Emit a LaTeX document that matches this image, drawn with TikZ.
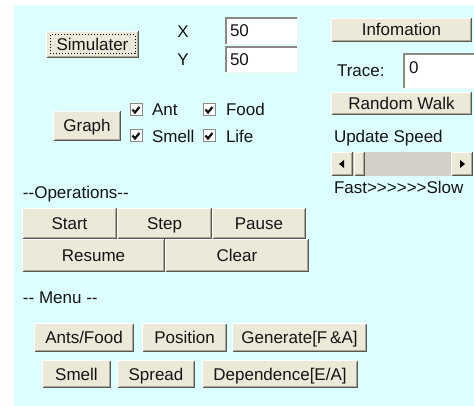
\documentclass[tikz,border=0pt]{standalone}
\usepackage{fontspec}
\newfontfamily\uiface{Liberation Sans}
\definecolor{panel}{HTML}{DCFFFF}
\definecolor{btnfill}{HTML}{ECE9D8}
\definecolor{btndark}{HTML}{5A5850}
\definecolor{btnmid}{HTML}{ACA899}
\definecolor{fielddark}{HTML}{8C8A80}
\definecolor{fieldlight}{HTML}{F4F3EE}
\definecolor{track}{HTML}{D4D0C8}
\definecolor{ink}{HTML}{141414}
\newcommand\uifont{\uiface\fontsize{17}{20}\selectfont}
\newcommand\bevelup[1]{%
  \draw[white,line width=1pt] ([xshift=.5pt,yshift=.5pt]#1.south west) |- ([xshift=-.5pt,yshift=-.5pt]#1.north east);
  \draw[btndark,line width=1pt] ([xshift=.5pt,yshift=.5pt]#1.south west) -| ([xshift=-.5pt,yshift=-.5pt]#1.north east);
  \draw[btnmid,line width=1pt] ([xshift=1.5pt,yshift=1.5pt]#1.south west) -| ([xshift=-1.5pt,yshift=-1.5pt]#1.north east);
}
\newcommand\beveldown[1]{%
  \draw[fieldlight,line width=1pt] ([xshift=.5pt,yshift=.5pt]#1.south west) -| ([xshift=-.5pt,yshift=-.5pt]#1.north east);
  \draw[fielddark,line width=2pt] ([xshift=1pt,yshift=1pt]#1.south west) |- ([xshift=-1pt,yshift=-1pt]#1.north east);
}
\begin{document}
\begin{tikzpicture}[x=1pt,y=-1pt,
  every node/.style={font=\uifont,text=ink,inner sep=0pt,outer sep=0pt,text height=12pt,text depth=0pt},
  btn/.style={fill=btnfill,anchor=north west},
  field/.style={fill=white,anchor=north west},
  lbl/.style={anchor=west},
  cbox/.style={fill=white,draw=fielddark,line width=1pt,minimum size=12pt,text height=0pt},
  tick/.style={line width=2.2pt,ink,line join=miter}]
\useasboundingbox (0,0) rectangle (474,406);
\fill[panel] (14,5) rectangle (474,406);

% top-left controls
\node[btn,minimum width=93pt,minimum height=27pt] (sim) at (46,31) {Simulater};
\draw[dotted,line width=1pt] ([shift={(4pt,4pt)}]sim.south west) rectangle ([shift={(-4pt,-4pt)}]sim.north east);
\node (xl) at (183,32) {X};
\node (yl) at (183,60) {Y};
\node[field,minimum width=73pt,minimum height=28pt] (fx) at (225,17) {};
\node[field,minimum width=73pt,minimum height=27pt] (fy) at (225,46) {};
\node[lbl] (fxt) at ([xshift=5pt]fx.west) {50};
\node[lbl] (fyt) at ([xshift=5pt]fy.west) {50};

\node[btn,minimum width=68pt,minimum height=30pt] (graph) at (53,111) {Graph};
\node[cbox] (cant) at (136,110) {};
\node[cbox] (cfood) at (209,110) {};
\node[cbox] (csmell) at (136,136) {};
\node[cbox] (clife) at (209,136) {};
\foreach \c in {cant,cfood,csmell,clife}{
  \draw[tick] ([shift={(-3.5pt,0.5pt)}]\c.center) -- ([shift={(-1pt,-2.5pt)}]\c.center) -- ([shift={(3.5pt,3pt)}]\c.center);
}
\node[lbl] (tant) at (152,110) {Ant};
\node[lbl] (tfood) at (226,110) {Food};
\node[lbl] (tsmell) at (152,137) {Smell};
\node[lbl] (tlife) at (226,137) {Life};

% right column
\node[btn,minimum width=141pt,minimum height=24pt] (info) at (331,18) {Infomation};
\node[lbl] (trace) at (337,71) {Trace:};
\begin{scope}
\clip (0,0) rectangle (474,406);
\node[field,minimum width=80pt,minimum height=35pt] (ftr) at (403,54) {};
\draw[fieldlight,line width=1pt] ([yshift=.5pt]ftr.south west) -- ([yshift=.5pt]ftr.south east);
\draw[fielddark,line width=2pt] ([xshift=1pt,yshift=1pt]ftr.south west) |- (ftr.north east);
\end{scope}
\node[anchor=north west] (ftrt) at (409,62) {0};
\node[btn,minimum width=141pt,minimum height=23pt] (rw) at (331,92) {Random Walk};
\node[lbl] (upd) at (334,137) {Update Speed};

% scrollbar
\node[fill=track,anchor=north west,minimum width=142pt,minimum height=24pt] (sb) at (331,152) {};
\node[btn,minimum width=22pt,minimum height=24pt] (sbl) at (331,152) {};
\node[btn,minimum width=11pt,minimum height=24pt] (sbt) at (354,152) {};
\node[btn,minimum width=22pt,minimum height=24pt] (sbr) at (451,152) {};
\fill[black] ([xshift=-3pt]sbl.center) -- ([shift={(2pt,4pt)}]sbl.center) -- ([shift={(2pt,-4pt)}]sbl.center) -- cycle;
\fill[black] ([xshift=3pt]sbr.center) -- ([shift={(-2pt,4pt)}]sbr.center) -- ([shift={(-2pt,-4pt)}]sbr.center) -- cycle;
\node[lbl] (fs) at (334,188) {Fast>\kern0pt>\kern0pt>\kern0pt>\kern0pt>\kern0pt>Slow};

% operations
\node[lbl] (ops) at (23,193) {-\kern0pt-Operations-\kern0pt-};
\node[btn,minimum width=95pt,minimum height=31pt] (start) at (22,208) {Start};
\node[btn,minimum width=95pt,minimum height=31pt] (step) at (117,208) {Step};
\node[btn,minimum width=94pt,minimum height=31pt] (pause) at (212,208) {Pause};
\node[btn,minimum width=143pt,minimum height=33pt] (resume) at (22,239) {Resume};
\node[btn,minimum width=144pt,minimum height=33pt] (clear) at (165,239) {Clear};

% menu
\node[lbl] (menu) at (23,297) {-\kern0pt- Menu -\kern0pt-};
\node[btn,minimum width=100pt,minimum height=29pt] (antsfood) at (34,323) {Ants/Food};
\node[btn,minimum width=85pt,minimum height=29pt] (position) at (142,323) {Position};
\node[btn,minimum width=135pt,minimum height=29pt] (generate) at (232,323) {Generate[F\,\&A]};
\node[btn,minimum width=69pt,minimum height=28pt] (smell) at (42,360) {Smell};
\node[btn,minimum width=78pt,minimum height=28pt] (spread) at (117,360) {Spread};
\node[btn,minimum width=156pt,minimum height=28pt] (depend) at (202,360) {Dependence[E/A]};

\foreach \n in {sim,graph,info,rw,sbl,sbt,sbr,start,step,pause,resume,clear,antsfood,position,generate,smell,spread,depend}{\bevelup{\n}}
\foreach \n in {fx,fy}{\beveldown{\n}}
\end{tikzpicture}
\end{document}
